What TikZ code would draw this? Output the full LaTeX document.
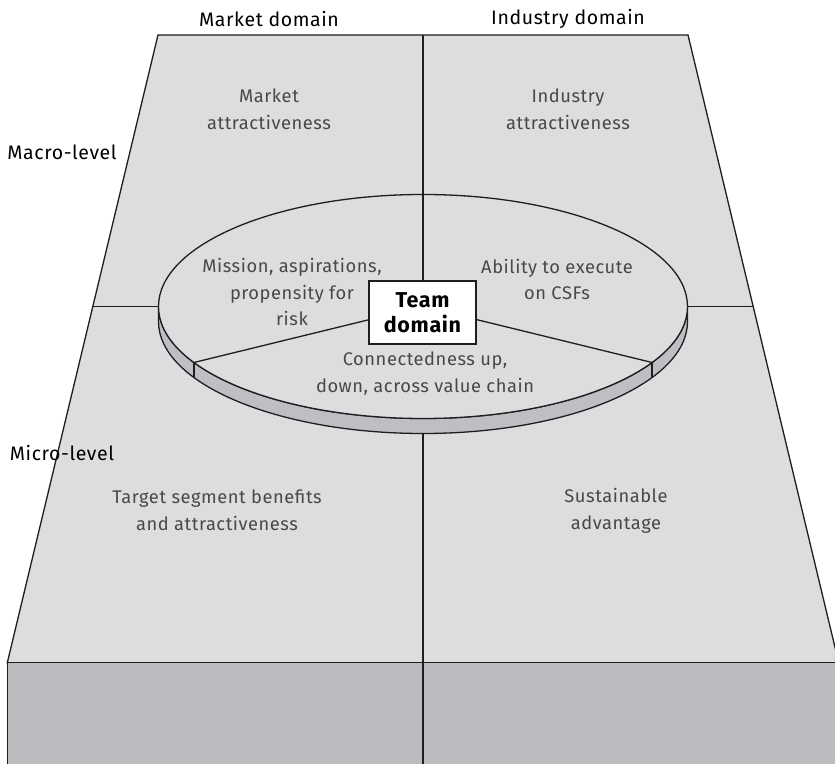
\documentclass[tikz,border=0pt]{standalone}
\usepackage{fontspec}
\setmainfont{Fira Sans}[LetterSpace=3]
\usetikzlibrary{calc}
\definecolor{facegray}{HTML}{DCDDDF}
\definecolor{frontgray}{HTML}{BBBCC0}
\definecolor{rimgray}{HTML}{BEBFC3}
\definecolor{edgecol}{HTML}{1E1E1E}
\definecolor{txtgray}{HTML}{484848}
\tikzset{
  edge/.style={draw=edgecol, line width=1.3pt, line join=miter},
  divider/.style={draw=edgecol, line width=1.3pt},
  header/.style={font=\fontsize{19.5}{22}\selectfont, text=black, inner sep=0pt},
  inner/.style={font=\fontsize{18.3}{26.5}\selectfont, text=txtgray, align=center, inner sep=0pt},
  teambox/.style={draw=edgecol, line width=1.3pt, fill=white, minimum width=107pt, minimum height=63pt, inner sep=0pt, align=center, font=\fontsize{21.5}{25}\selectfont\bfseries},
}
\begin{document}
\begin{tikzpicture}[x=1pt,y=1pt]
\useasboundingbox (0,0) rectangle (835,763);
\clip (0,0) rectangle (835,763);
% coordinates
\coordinate (TL) at (158,728);
\coordinate (TR) at (688,728);
\coordinate (BL) at (7.3,100.3);
\coordinate (BR) at (838.7,100.3);
\coordinate (FL) at (7.3,-10);
\coordinate (FR) at (838.7,-10);
\coordinate (vt) at (423,728);
\coordinate (vb) at (423,-10);
\coordinate (hl) at (92.5,456.5);
\coordinate (hr) at (753.6,456.5);
\coordinate (c) at (423,456.5);
\coordinate (eL) at ($(c)+(180:264.5 and 112)$);
\coordinate (eR) at ($(c)+(0:264.5 and 112)$);
\coordinate (eT) at ($(c)+(90:264.5 and 112)$);
\coordinate (sL) at ($(c)+(210:264.5 and 112)$);
\coordinate (sR) at ($(c)+(330:264.5 and 112)$);
% top face
\path[edge, fill=facegray] (TL) -- (TR) -- (BR) -- (BL) -- cycle;
% front face
\path[edge, fill=frontgray] (BL) -- (BR) -- (FR) -- (FL) -- cycle;
% dividers
\draw[divider] (vt) -- (vb);
\draw[divider] (hl) -- (eL);
\draw[divider] (eR) -- (hr);
% rim of the disc
\path[edge, fill=rimgray] (eL) -- ++(0,-15) arc[start angle=180, end angle=360, x radius=264.5, y radius=112] -- (eR) arc[start angle=0, end angle=-180, x radius=264.5, y radius=112] -- cycle;
\draw[divider] (sL) -- ++(0,-15);
\draw[divider] (sR) -- ++(0,-15);
% disc top
\path[edge, fill=facegray] (c) ellipse[x radius=264.5, y radius=112];
\draw[divider] (eT) -- (c);
\draw[divider] (c) -- (sL);
\draw[divider] (c) -- (sR);
\node[teambox] (team) at (422.5,450.5) {Team\\domain};
% labels
\node[header] (mkt) at (269,744) {Market domain};
\node[header] (ind) at (568,744) {Industry domain};
\node[header] (macro) at (62,611) {Macro-level};
\node[header] (micro) at (62,310) {Micro-level};
\node[inner] (ma) at (269,653.5) {Market\\attractiveness};
\node[inner] (ia) at (568,653.5) {Industry\\attractiveness};
\node[inner] (mis) at (292,471) {Mission, aspirations,\\propensity for\\risk};
\node[inner] (abl) at (557,483.5) {Ability to execute\\on CSFs};
\node[inner] (con) at (425,389.5) {Connectedness up,\\down, across value chain};
\node[inner] (tsb) at (217,253) {Target segment benefits\\and attractiveness};
\node[inner] (sus) at (616,252) {Sustainable\\advantage};
\end{tikzpicture}
\end{document}
